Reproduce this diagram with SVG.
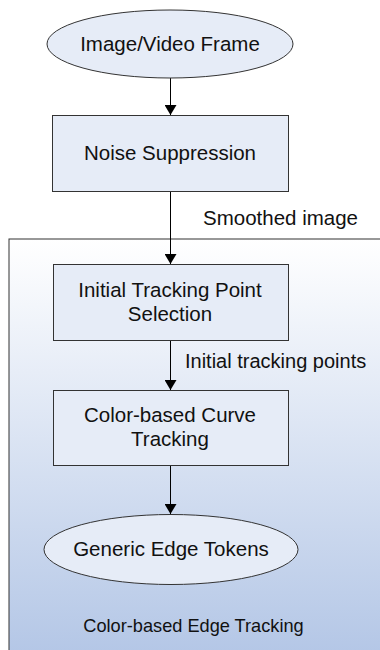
<svg xmlns="http://www.w3.org/2000/svg" width="380" height="650" viewBox="0 0 380 650">
<defs>
<linearGradient id="bg" x1="0" y1="0" x2="0" y2="1">
<stop offset="0" stop-color="#ffffff"/>
<stop offset="1" stop-color="#b3c6e6"/>
</linearGradient>
<marker id="ah" viewBox="0 0 10 12" refX="10" refY="6" markerWidth="10" markerHeight="12" markerUnits="userSpaceOnUse" orient="auto">
<path d="M0,0 L10,6 L0,12 Z" fill="#000"/>
</marker>
</defs>
<style>
.n{fill:#e6ecf7;stroke:#333;stroke-width:1}
.t{font-family:"Liberation Sans",Arial,sans-serif;font-size:20.5px;fill:#111;text-anchor:middle}
.l{font-family:"Liberation Sans",Arial,sans-serif;font-size:20px;fill:#111}
.c{stroke:#000;stroke-width:1;fill:none;marker-end:url(#ah)}
</style>
<g id="container">
<rect x="9" y="239" width="380" height="420" fill="url(#bg)" stroke="#333" stroke-width="1"/>
<text x="193.5" y="632" class="t" style="font-size:18.2px">Color-based Edge Tracking</text>
</g>
<g id="connectors">
<line x1="170.5" y1="78" x2="170.5" y2="115" class="c"/>
<line x1="170.5" y1="192" x2="170.5" y2="264" class="c"/>
<line x1="170.5" y1="341" x2="170.5" y2="390" class="c"/>
<line x1="170.5" y1="466" x2="170.5" y2="514" class="c"/>
<text x="203" y="225" class="l" style="font-size:20.5px">Smoothed image</text>
<text x="185" y="368" class="l">Initial tracking points</text>
</g>
<g id="n1">
<ellipse cx="170" cy="44" rx="123" ry="34" class="n"/>
<text x="170" y="51" class="t">Image/Video Frame</text>
</g>
<g id="n2">
<rect x="52.5" y="115.5" width="236" height="76" class="n"/>
<text x="170" y="160" class="t">Noise Suppression</text>
</g>
<g id="n3">
<rect x="53.5" y="264.5" width="235" height="76" class="n"/>
<text x="170" y="297" class="t">Initial Tracking Point</text>
<text x="170" y="321" class="t">Selection</text>
</g>
<g id="n4">
<rect x="53.5" y="390.5" width="235" height="75" class="n"/>
<text x="170" y="422" class="t">Color-based Curve</text>
<text x="170" y="446" class="t">Tracking</text>
</g>
<g id="n5">
<ellipse cx="171" cy="549.5" rx="127" ry="35" class="n"/>
<text x="171" y="556" class="t">Generic Edge Tokens</text>
</g>
</svg>
